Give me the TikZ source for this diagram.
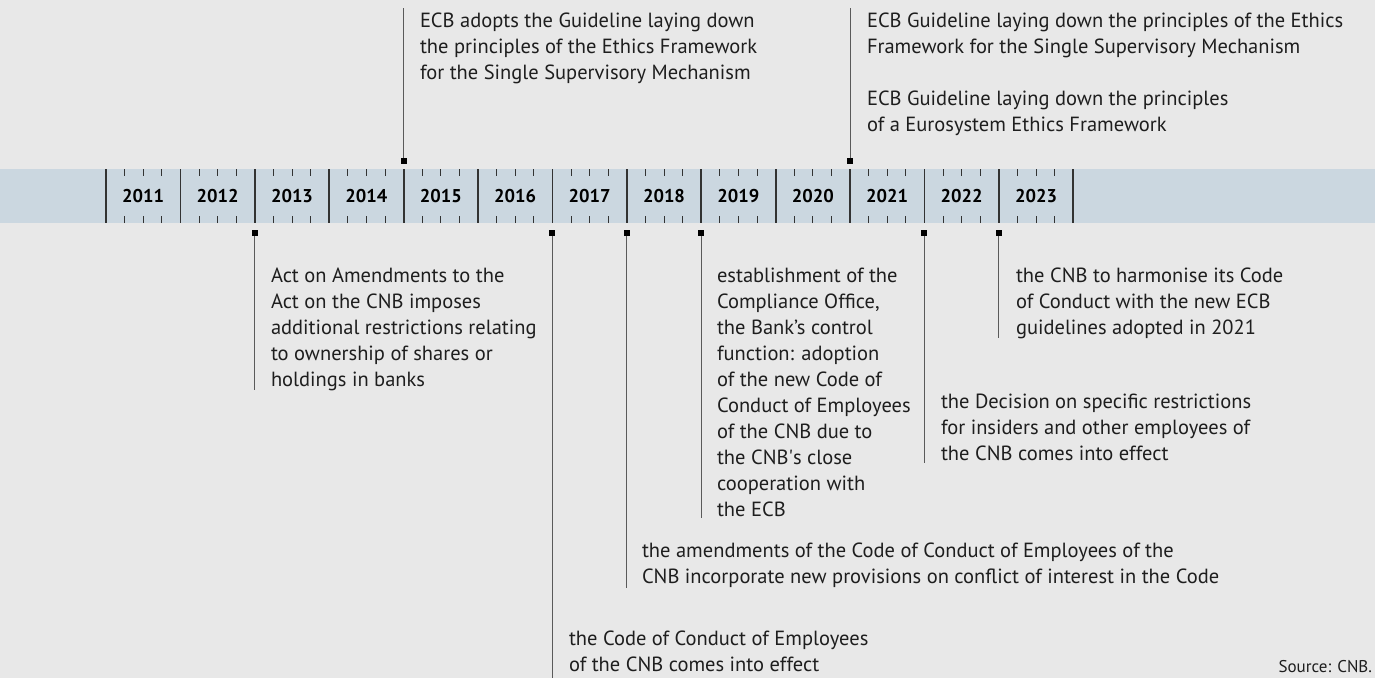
\documentclass[tikz,border=0pt]{standalone}
\usepackage{fontspec}
\setmainfont{PT Sans}
\usetikzlibrary{positioning}
\definecolor{bgcol}{RGB}{232,232,232}
\definecolor{bandcol}{RGB}{203,215,224}
\definecolor{linecol}{RGB}{90,90,90}
\definecolor{divcol}{RGB}{51,51,51}
\definecolor{txtcol}{RGB}{30,30,30}

\begin{document}
\begin{tikzpicture}[x=1pt, y=-1pt,
      every node/.style={inner sep=0pt, outer sep=0pt, text=txtcol},
      evtext/.style={anchor=base west, align=left, font=\fontsize{20.5}{26}\selectfont},
      yearlbl/.style={font=\fontsize{18.5}{22}\selectfont\bfseries, text=black},
      marker/.style={fill=black, minimum size=6pt},
      evline/.style={draw=linecol, line width=1pt},
      divider/.style={draw=divcol, line width=1.8pt},
      tick/.style={draw=divcol, line width=0.9pt}
    ]
      \fill[bgcol] (0,0) rectangle (1375,678);
      \useasboundingbox (0,0) rectangle (1375,678);
      \fill[bandcol] (0,169) rectangle (1375,223);

      \foreach \yr [count=\i from 0] in {2011,...,2023} {
        \node[yearlbl] (y\yr) at ({143.2+74.4*\i},196) {\yr};
        \foreach \q in {1,2,3} {
          \draw[tick] ({106+74.4*\i+18.6*\q},169) -- ++(0,7);
          \draw[tick] ({106+74.4*\i+18.6*\q},223) -- ++(0,-7);
        }
      }
      \foreach \i in {0,...,13}
        \draw[divider] ({106+74.4*\i},169) -- ++(0,54);

      % events above the band (text nodes placed by their last baseline)
      \node[marker] (m2015) at (403.6,161) {};
      \coordinate (e2015) at (403.6,8);
      \draw[evline] (m2015) -- (e2015);
      \node[evtext] (t2015) at (420,79) {ECB adopts the Guideline laying down\\the principles of the Ethics Framework\\for the Single Supervisory Mechanism};

      \node[marker] (m2021) at (850,161) {};
      \coordinate (e2021) at (850,8);
      \draw[evline] (m2021) -- (e2021);
      \node[evtext] (t2021) at (867,131) {ECB Guideline laying down the principles of the Ethics\\Framework for the Single Supervisory Mechanism\\[26pt]ECB Guideline laying down the principles\\of a Eurosystem Ethics Framework};

      % events below the band
      \node[marker] (m2013) at (254.8,233) {};
      \coordinate (e2013) at (254.8,390);
      \draw[evline] (m2013) -- (e2013);
      \node[evtext] (t2013) at (271,386) {Act on Amendments to the\\Act on the CNB imposes\\additional restrictions relating\\to ownership of shares or\\holdings in banks};

      \node[marker] (m2017) at (552.4,233) {};
      \coordinate (e2017) at (552.4,678);
      \draw[evline] (m2017) -- (e2017);
      \node[evtext] (t2017) at (569,671) {the Code of Conduct of Employees\\of the CNB comes into effect};

      \node[marker] (m2018) at (626.8,233) {};
      \coordinate (e2018) at (626.8,588);
      \draw[evline] (m2018) -- (e2018);
      \node[evtext] (t2018) at (642,583) {the amendments of the Code of Conduct of Employees of the\\CNB incorporate new provisions on conflict of interest in the Code};

      \node[marker] (m2019) at (701.2,233) {};
      \coordinate (e2019) at (701.2,518);
      \draw[evline] (m2019) -- (e2019);
      \node[evtext] (t2019) at (717,516) {establishment of the\\Compliance Office,\\the Bank’s control\\function: adoption\\of the new Code of\\Conduct of Employees\\of the CNB due to\\the CNB\textquotesingle s close\\cooperation with\\the ECB};

      \node[marker] (m2022) at (924.4,233) {};
      \coordinate (e2022) at (924.4,463);
      \draw[evline] (m2022) -- (e2022);
      \node[evtext] (t2022) at (941,460) {the Decision on specific restrictions\\for insiders and other employees of\\the CNB comes into effect};

      \node[marker] (m2023) at (998.8,233) {};
      \coordinate (e2023) at (998.8,338);
      \draw[evline] (m2023) -- (e2023);
      \node[evtext] (t2023) at (1016,334) {the CNB to harmonise its Code\\of Conduct with the new ECB\\guidelines adopted in 2021};

      \node[anchor=base east, font=\fontsize{17}{20}\selectfont] (src) at (1372,672) {Source: CNB.};
    \end{tikzpicture}
\end{document}
